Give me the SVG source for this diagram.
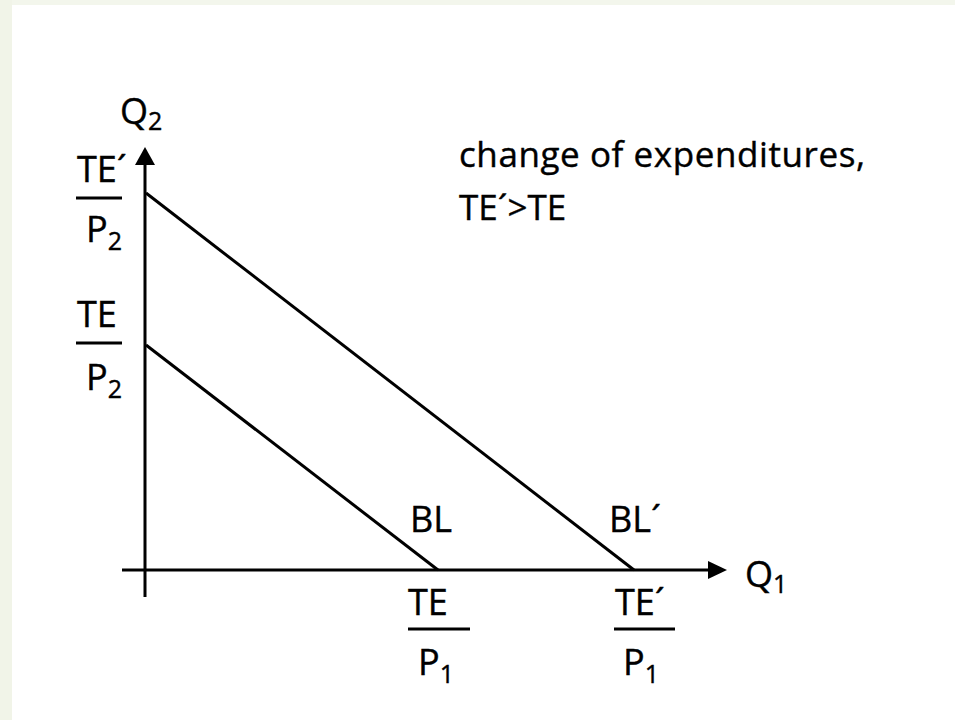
<svg xmlns="http://www.w3.org/2000/svg" width="955" height="720" viewBox="0 0 955 720">
<style>
.t{font-family:"Open Sans","Liberation Sans",sans-serif;fill:#000;stroke:#000;stroke-width:0.4}
.lab{font-size:36px}
.sub{font-size:25px}
.ln{stroke:#000;stroke-width:3;fill:none}
</style>
<rect x="0" y="0" width="955" height="720" fill="#ffffff"/>
<rect x="0" y="0" width="955" height="5" fill="#f3f6ec"/>
<rect x="0" y="0" width="12" height="720" fill="#f1f4e8"/>
<g id="connectors">
<line class="ln" x1="145" y1="162" x2="145" y2="597"/>
<polygon points="145,147 135,165 155,165" fill="#000"/>
<line class="ln" x1="122" y1="570" x2="710" y2="570"/>
<polygon points="727,570 708,561 708,579" fill="#000"/>
<line class="ln" x1="146" y1="193" x2="634" y2="570"/>
<line class="ln" x1="146" y1="345" x2="438" y2="570"/>
</g>
<g id="axis-q2"><text class="t lab" x="120" y="124">Q<tspan class="sub" dy="6">2</tspan></text></g>
<g id="axis-q1"><text class="t lab" x="745" y="587">Q<tspan class="sub" dy="6">1</tspan></text></g>
<g id="label-te-prime-p2">
<text class="t lab" x="77" y="182">TE´</text>
<line class="ln" x1="76" y1="198" x2="122" y2="198"/>
<text class="t lab" x="86" y="242">P<tspan class="sub" dy="8">2</tspan></text>
</g>
<g id="label-te-p2">
<text class="t lab" x="77" y="327">TE</text>
<line class="ln" x1="76" y1="343" x2="122" y2="343"/>
<text class="t lab" x="86" y="390">P<tspan class="sub" dy="8">2</tspan></text>
</g>
<g id="label-te-p1">
<text class="t lab" x="408" y="615">TE</text>
<line class="ln" x1="408" y1="629" x2="470" y2="629"/>
<text class="t lab" x="418" y="675">P<tspan class="sub" dy="8">1</tspan></text>
</g>
<g id="label-te-prime-p1">
<text class="t lab" x="615" y="615">TE´</text>
<line class="ln" x1="614" y1="629" x2="675" y2="629"/>
<text class="t lab" x="623" y="675">P<tspan class="sub" dy="8">1</tspan></text>
</g>
<g id="label-bl"><text class="t lab" x="410" y="532">BL</text></g>
<g id="label-bl-prime"><text class="t lab" x="609" y="532">BL´</text></g>
<g id="note">
<text class="t" font-size="35" x="459" y="167" textLength="406">change of expenditures,</text>
<text class="t" font-size="35" x="459" y="220">TE´&gt;TE</text>
</g>
</svg>
